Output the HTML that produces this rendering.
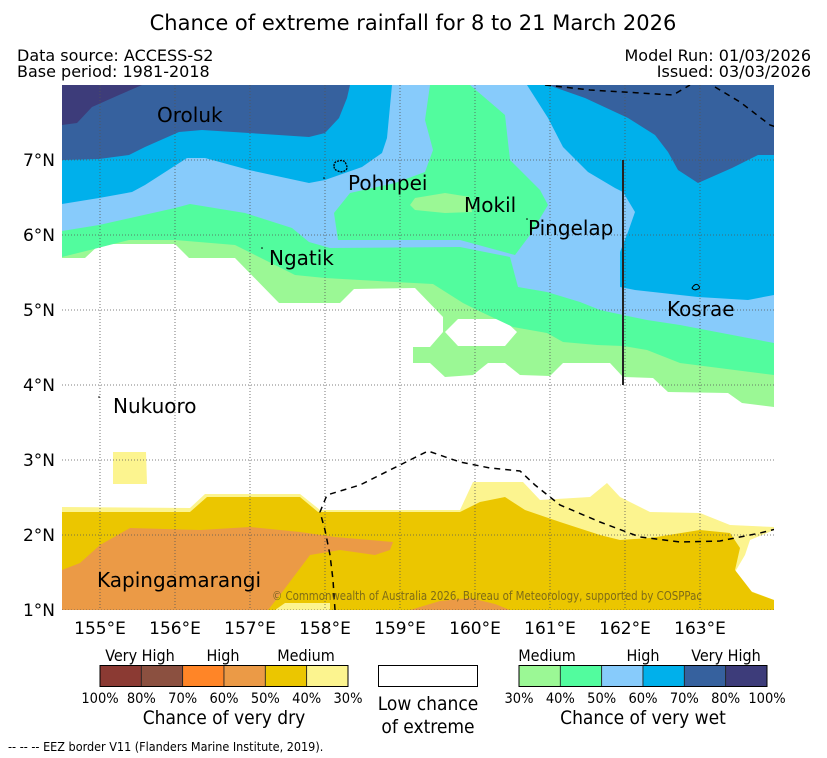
<!DOCTYPE html>
<html><head><meta charset="utf-8">
<style>
body{margin:0;background:#fff;}
svg{display:block;font-family:"DejaVu Sans","Liberation Sans",sans-serif;}
.c{font-family:"DejaVu Sans Condensed","DejaVu Sans",sans-serif;}
</style></head>
<body>
<svg id="chart" width="827" height="758" viewBox="0 0 827 758" xmlns="http://www.w3.org/2000/svg">
<text x="413" y="30" font-size="21" text-anchor="middle">Chance of extreme rainfall for 8 to 21 March 2026</text>
<text x="17" y="61" font-size="16">Data source: ACCESS-S2</text>
<text x="17" y="77" font-size="16">Base period: 1981-2018</text>
<text x="811" y="61" font-size="16" text-anchor="end">Model Run: 01/03/2026</text>
<text x="811" y="77" font-size="16" text-anchor="end">Issued: 03/03/2026</text>
<defs><clipPath id="mc"><rect x="62" y="85" width="712" height="525"/></clipPath></defs>
<g id="map" clip-path="url(#mc)">
<rect x="62" y="85" width="712" height="525" fill="#fff"/>
<polygon fill="#9bf895" points="62,85 774,85 774,407 742,403 728,393 668,392 653,378 623,377 610,363 563,363 550,376 520,375 505,363 488,363 473,375 445,377 430,363 413,363 413,347 430,347 443,332 443,317 415,288 354,289 340,303 279,303 235,258 189,258 175,244 100,244 85,258 62,258"/>
<polygon fill="#fff" points="445,332 458,319 503,319 517,332 505,346 458,346"/>
<polygon fill="#52fc9e" points="62,85 774,85 774,375 680,363 647,350 623,346 597,345 563,342 547,333 513,327 477,310 463,303 433,284 395,282 325,278 295,275 255,255 235,245 175,240 129,240 90,250 62,257"/>
<polygon fill="#87cbfb" points="62,85 774,85 774,343 680,325 647,320 623,315 600,310 580,302 547,292 518,287 510,257 460,247 330,248 309,242 292,228 245,213 190,204 175,208 99,225 62,231"/>
<polygon fill="#52fc9e" points="338,240 334,213 350,193 395,183 425,172 433,150 425,120 430,85 470,85 505,115 510,160 540,190 548,205 530,235 515,255 460,240"/>
<polygon fill="#9bf895" points="410,205 415,198 445,193 470,197 472,212 445,213 415,210"/>
<polygon fill="#00b0eb" points="62,85 392,85 387,138 382,153 362,167 325,180 309,183 249,170 205,158 187,158 145,185 132,192 99,198 62,204"/>
<polygon fill="#00b0eb" points="527,85 548,118 563,147 588,172 615,188 623,192 635,212 628,232 620,252 620,287 635,290 698,297 748,300 774,295 774,85"/>
<polygon fill="#36619e" points="62,85 350,85 347,98 339,118 325,133 309,137 249,133 202,130 179,132 145,147 129,155 99,159 62,160"/>
<polygon fill="#36619e" points="548,85 585,98 628,118 655,135 668,152 678,170 698,183 732,168 758,155 774,155 774,85"/>
<polygon fill="#3d3c7a" points="62,85 142,85 119,95 92,107 77,123 62,125"/>
<polygon fill="#fcf48f" points="62,507 190,508 205,494 300,494 320,510 460,510 473,482 523,482 540,500 590,497 607,483 620,497 650,512 700,513 730,525 774,527 774,610 62,610"/>
<polygon fill="#fcf48f" points="113,452 146,452 147,484 113,484"/>
<polygon fill="#fff" points="774,530 750,540 745,555 735,572 748,590 774,600"/>
<polygon fill="#ebc600" points="62,512 190,512 207,497 300,497 318,512 460,512 480,502 505,497 525,510 560,522 600,535 620,540 650,538 700,530 730,533 740,548 735,570 752,592 774,600 774,610 62,610"/>
<polygon fill="#eb9a46" points="62,570 80,563 100,545 130,528 200,530 250,527 300,532 335,537 370,540 393,542 390,550 375,555 340,550 310,555 295,575 280,595 268,610 62,610"/>
<polygon fill="#eb9a46" points="410,610 440,601 470,598 495,604 510,610"/>
<polygon fill="#fcf48f" points="275,610 285,603 330,603 330,610"/>
<g id="grid"></g>
<line x1="623" y1="160" x2="623" y2="385" stroke="#222" stroke-width="2"/>
<g fill="none" stroke="#000" stroke-width="1.5" stroke-dasharray="6,5">
<polyline points="545,85 590,90 640,93 673,95 690,85"/>
<polyline points="715,87 740,102 770,125 776,127"/>
<polyline points="335,610 333,580 330,555 325,530 320,512 327,495 360,485 400,465 428,451 460,462 490,468 520,471 535,485 560,505 600,522 640,537 680,542 720,541 760,533 776,529"/>
</g>
<path d="M334,166 q0,-5 5,-5 q5,-2 7,3 q2,4 0,6 q-4,3 -8,1 q-4,-1 -4,-5z" fill="none" stroke="#000" stroke-width="1.3" stroke-dasharray="2,1"/>
<path d="M692,288 q3,-5 6,-3 q3,3 0,4 q-4,2 -6,-1z" fill="none" stroke="#000" stroke-width="1"/>
<circle cx="262" cy="248" r="0.8" fill="#000"/><circle cx="324" cy="178" r="0.8" fill="#000"/><circle cx="527" cy="219" r="0.8" fill="#000"/><circle cx="99" cy="397" r="0.8" fill="#000"/>
<g font-size="20" fill="#000">
<text x="157" y="122">Oroluk</text>
<text x="348" y="190">Pohnpei</text>
<text x="464" y="212">Mokil</text>
<text x="528" y="235">Pingelap</text>
<text x="269" y="265">Ngatik</text>
<text x="667" y="316">Kosrae</text>
<text x="113" y="413">Nukuoro</text>
<text x="97" y="587">Kapingamarangi</text>
</g>
<text x="272" y="600" font-size="12" textLength="430" lengthAdjust="spacingAndGlyphs" fill="#6b5a1a" fill-opacity="0.85">© Commonwealth of Australia 2026, Bureau of Meteorology, supported by COSPPac</text>
</g>
<g id="axes" font-size="17"></g>

<g class="c">
<g id="dryBar"></g>
<text x="140" y="661" font-size="16" text-anchor="middle">Very High</text>
<text x="223" y="661" font-size="16" text-anchor="middle">High</text>
<text x="306" y="661" font-size="16" text-anchor="middle">Medium</text>
<g id="dryTicks" font-size="14.5" text-anchor="middle"></g>
<text x="224" y="724" font-size="19" text-anchor="middle">Chance of very dry</text>
</g>
<g class="c">
<rect x="378.5" y="665.5" width="99" height="21" fill="#fff" stroke="#000"/>
<text x="428" y="710" font-size="19" text-anchor="middle">Low chance</text>
<text x="428" y="733" font-size="19" text-anchor="middle">of extreme</text>
</g>
<g class="c">
<g id="wetBar"></g>
<text x="547" y="661" font-size="16" text-anchor="middle">Medium</text>
<text x="643" y="661" font-size="16" text-anchor="middle">High</text>
<text x="726" y="661" font-size="16" text-anchor="middle">Very High</text>
<g id="wetTicks" font-size="14.5" text-anchor="middle"></g>
<text x="643" y="724" font-size="19" text-anchor="middle">Chance of very wet</text>
</g>
<text class="c" x="8" y="751" font-size="12.5">--  --  -- EEZ border V11 (Flanders Marine Institute, 2019).</text>
</svg>
<script>
const lonTicks=[155,156,157,158,159,160,161,162,163];
const latTicks=[1,2,3,4,5,6,7];
const dryColors=["#8b3a33","#8b5040","#ff8527","#eb9a46","#ebc600","#fcf48f"];
const dryLabels=["100%","80%","70%","60%","50%","40%","30%"];
const wetColors=["#9bf895","#52fc9e","#87cbfb","#00b0eb","#36619e","#3d3c7a"];
const wetLabels=["30%","40%","50%","60%","70%","80%","100%"];
const NS="http://www.w3.org/2000/svg";
function xLon(l){return 100+(l-155)*75;}
function yLat(l){return 160-(l-7)*75;}
function mk(t,a,p){const e=document.createElementNS(NS,t);for(const k in a)e.setAttribute(k,a[k]);p.appendChild(e);return e;}
const grid=document.getElementById('grid'),axes=document.getElementById('axes');
lonTicks.forEach(l=>{
 const g=mk('line',{x1:xLon(l),x2:xLon(l),y1:85,y2:610,stroke:'#555','stroke-width':0.8,'stroke-dasharray':'1,2'},grid);
 
 
 const t=mk('text',{x:xLon(l),y:634,'text-anchor':'middle'},axes);t.textContent=l+'°E';
 
 
});
latTicks.forEach(l=>{
 const g=mk('line',{x1:62,x2:774,y1:yLat(l),y2:yLat(l),stroke:'#555','stroke-width':0.8,'stroke-dasharray':'1,2'},grid);
 
 
 const t=mk('text',{x:55,y:yLat(l)+6,'text-anchor':'end'},axes);t.textContent=l+'°N';
 
 
});
function bar(id,tid,x0,colors,labels){
 const g=document.getElementById(id),tg=document.getElementById(tid),w=248/colors.length;
 colors.forEach((c,i)=>{const r=mk('rect',{x:x0+i*w,y:665.5,width:w,height:21,fill:c,stroke:'#222','stroke-width':0.8},g);
 
 });
 mk('rect',{x:x0,y:665.5,width:248,height:21,fill:'none',stroke:'#000'},g);
 labels.forEach((s,i)=>{const t=mk('text',{x:x0+i*w,y:703},tg);t.textContent=s;
 
 });
}
bar('dryBar','dryTicks',100,dryColors,dryLabels);
bar('wetBar','wetTicks',519,wetColors,wetLabels);
</script>
</body></html>
